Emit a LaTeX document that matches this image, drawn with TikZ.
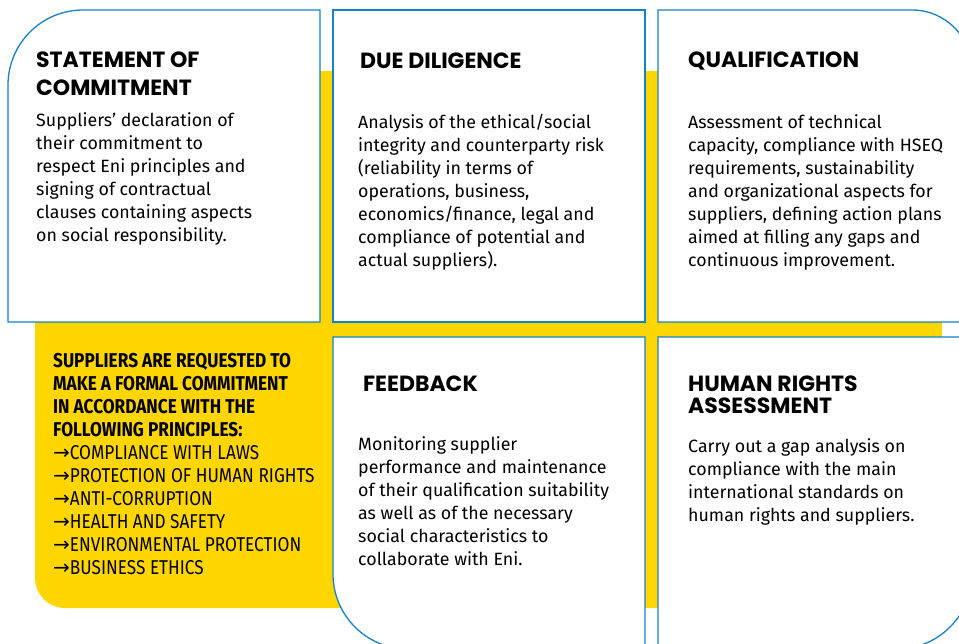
\documentclass[tikz,border=0pt]{standalone}
\usepackage{fontspec}
\setmainfont{Fira Sans}
\newfontfamily\headfont{Poppins}
\newfontfamily\condfont{Fira Sans}[FakeStretch=0.86]
\newfontfamily\arrowfont{DejaVu Sans}
\usetikzlibrary{positioning}

\definecolor{eniblue}{RGB}{20,130,200}
\definecolor{eniyellow}{RGB}{255,214,0}
\newcommand{\arr}{{\arrowfont\char"2192}}

\begin{document}
\begin{tikzpicture}[x=1pt,y=-1pt,
    box/.style={draw=eniblue,fill=white,line width=1.3pt},
    head/.style={anchor=north west,inner sep=0pt,align=left,
      font=\headfont\bfseries\fontsize{22}{28}\selectfont},
    body/.style={anchor=north west,inner sep=0pt,align=left,
      font=\fontsize{17.8}{23}\selectfont},
    note/.style={anchor=north west,inner sep=0pt,align=left,
      font=\condfont\fontsize{20}{23}\selectfont}]

    \useasboundingbox (0,0) rectangle (959,643);
    \clip (0,0) rectangle (959,643);

    % yellow band behind the boxes
    \fill[eniyellow] (35,71) -- (942,71) -- (942,608) [rounded corners=30] -- (35,608) [sharp corners] -- cycle;

    \draw[box] (8,322) [rounded corners=75] -- (8,10) [sharp corners] -- (320,10) -- (320,322) -- cycle;
    \draw[box] (333,10) rectangle (645,322);
    \draw[box] (658,322) -- (658,10) [rounded corners=60] -- (972,10) [sharp corners] -- (972,322) -- cycle;
    \draw[box] (333,337) -- (645,337) -- (645,649) [rounded corners=75] -- (333,649) [sharp corners] -- cycle;
    \draw[box] (658,337) -- (972,337) [rounded corners=75] -- (972,649) [sharp corners] -- (658,649) -- cycle;

    \node[head] (stmt) at (36,52) {STATEMENT OF\\COMMITMENT};
    \node[body] (stmtTxt) at (36,112) {Suppliers’ declaration of\\their commitment to\\respect Eni principles and\\signing of contractual\\clauses containing aspects\\on social responsibility.};

    \node[head] (dd) at (360,53) {DUE DILIGENCE};
    \node[body] (ddTxt) at (358,114) {Analysis of the ethical/social\\integrity and counterparty risk\\(reliability in terms of\\operations, business,\\economics/finance, legal and\\compliance of potential and\\actual suppliers).};

    \node[head] (qual) at (688,52) {QUALIFICATION};
    \node[body] (qualTxt) at (688,114) {Assessment of technical\\capacity, compliance with HSEQ\\requirements, sustainability\\and organizational aspects for\\suppliers, defining action plans\\aimed at filling any gaps and\\continuous improvement.};

    \node[note] (princ) at (53,353) {\bfseries SUPPLIERS ARE REQUESTED TO\\\bfseries MAKE A FORMAL COMMITMENT\\\bfseries IN ACCORDANCE WITH THE\\\bfseries FOLLOWING PRINCIPLES:\\\arr COMPLIANCE WITH LAWS\\\arr PROTECTION OF HUMAN RIGHTS\\\arr ANTI-CORRUPTION\\\arr HEALTH AND SAFETY\\\arr ENVIRONMENTAL PROTECTION\\\arr BUSINESS ETHICS};

    \node[head] (fb) at (363,376) {FEEDBACK};
    \node[body] (fbTxt) at (358,436) {Monitoring supplier\\performance and maintenance\\of their qualification suitability\\as well as of the necessary\\social characteristics to\\collaborate with Eni.};

    \node[head,font=\headfont\bfseries\fontsize{22}{22}\selectfont] (hr) at (688,376) {HUMAN RIGHTS\\ASSESSMENT};
    \node[body] (hrTxt) at (688,438) {Carry out a gap analysis on\\compliance with the main\\international standards on\\human rights and suppliers.};
\end{tikzpicture}
\end{document}
